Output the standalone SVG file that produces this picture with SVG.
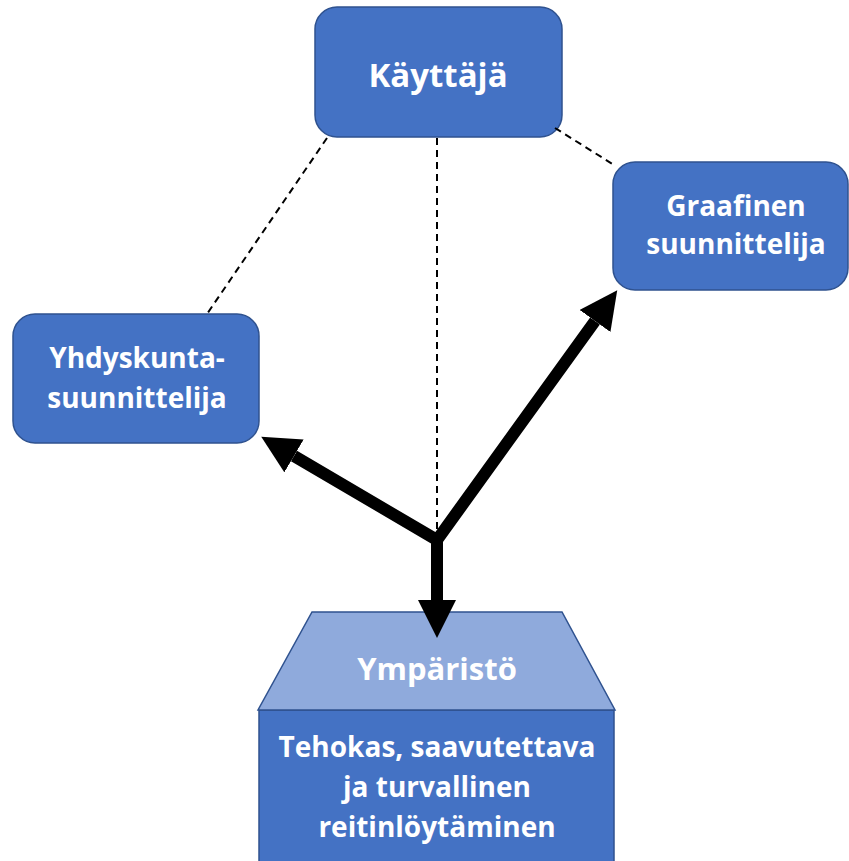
<svg xmlns="http://www.w3.org/2000/svg" width="849" height="861" viewBox="0 0 849 861">
<defs>
<style>
.box{fill:#4472C4;stroke:#2F528F;stroke-width:1.5}
.top{fill:#8FAADC;stroke:#2F528F;stroke-width:1.5}
.t{font-family:"Open Sans","Noto Sans",sans-serif;font-weight:bold;font-size:28px;fill:#fff;text-anchor:middle}
.dash{stroke:#000;stroke-width:2;stroke-dasharray:7,5;fill:none}
.arr{stroke:#000;stroke-width:12;fill:none;stroke-linejoin:miter}
</style>
<marker id="ah" markerUnits="userSpaceOnUse" markerWidth="40" markerHeight="40" refX="0" refY="19" orient="auto-start-reverse" viewBox="0 0 40 40">
<path d="M0,0 L38,19 L0,38 Z" fill="#000"/>
</marker>
</defs>
<g id="kayttaja">
<rect class="box" x="315" y="7" width="247" height="130" rx="22"/>
<text class="t" x="438" y="87" style="font-size:33px">Käyttäjä</text>
</g>
<g id="graafinen">
<rect class="box" x="613" y="162" width="235" height="128" rx="22"/>
<text class="t" x="736" y="216">Graafinen</text>
<text class="t" x="736" y="254">suunnittelija</text>
</g>
<g id="yhdyskunta">
<rect class="box" x="13" y="314" width="246" height="129" rx="22"/>
<text class="t" x="137" y="368">Yhdyskunta-</text>
<text class="t" x="137" y="408">suunnittelija</text>
</g>
<g id="ymparisto">
<rect class="box" x="259" y="710" width="355" height="160"/>
<polygon class="top" points="312,612 562,612 615,710 258,710"/>
<text class="t" x="437" y="680" style="font-size:31px">Ympäristö</text>
<text class="t" x="437" y="757">Tehokas, saavutettava</text>
<text class="t" x="437" y="797">ja turvallinen</text>
<text class="t" x="437" y="837">reitinlöytäminen</text>
</g>
<g id="connectors">
<line class="dash" x1="327" y1="138" x2="207" y2="314"/>
<line class="dash" x1="437" y1="138" x2="437" y2="535"/>
<line class="dash" x1="555" y1="128" x2="614" y2="165"/>
<path class="arr" d="M294,456 L437,540 L595,321" marker-start="url(#ah)" marker-end="url(#ah)"/>
<line class="arr" x1="437" y1="536" x2="437" y2="600" marker-end="url(#ah)"/>
</g>
</svg>
